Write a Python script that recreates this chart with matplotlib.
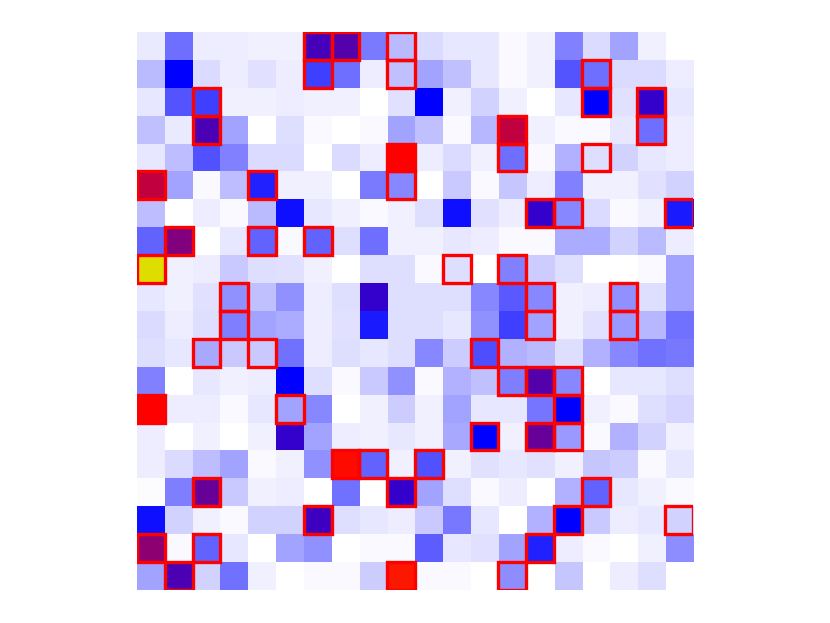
import numpy as np
import matplotlib
matplotlib.use("Agg")
import matplotlib.pyplot as plt
from matplotlib.colors import LinearSegmentedColormap
from matplotlib.patches import Rectangle

nan = np.nan

# cell values: 0 = white, 1 = blue, 2 = red, 3 = yellow
values = [
    [0.09, 0.57, 0.08, 0.08, 0.06, 0.06, 1.27, 1.33, 0.52, 0.28, 0.15, 0.10, 0.10, 0.03, 0.06, 0.50, 0.15, 0.37, 0.07, nan],
    [0.28, 1.00, 0.15, 0.08, 0.12, 0.08, 0.75, 0.57, 0.08, 0.25, 0.37, 0.25, 0.10, 0.03, 0.06, 0.67, 0.57, 0.15, 0.15, 0.08],
    [0.10, 0.67, 0.75, 0.06, 0.06, 0.08, 0.06, 0.06, 0.00, 0.12, 1.00, 0.06, 0.18, 0.06, 0.00, 0.10, 1.00, 0.12, 1.20, 0.10],
    [0.25, 0.09, 1.30, 0.37, 0.00, 0.14, 0.03, 0.00, 0.03, 0.37, 0.25, 0.03, 0.29, 1.75, 0.06, 0.03, 0.03, 0.10, 0.57, 0.08],
    [0.10, 0.26, 0.69, 0.50, 0.15, 0.15, 0.00, 0.15, 0.08, 2.00, 0.08, 0.15, 0.06, 0.57, 0.03, 0.31, 0.14, 0.18, 0.10, 0.08],
    [1.75, 0.37, 0.03, 0.26, 0.87, 0.06, 0.06, 0.00, 0.52, 0.47, 0.00, 0.22, 0.03, 0.23, 0.08, 0.50, 0.06, 0.06, 0.12, 0.18],
    [0.26, 0.00, 0.08, 0.03, 0.28, 0.94, 0.10, 0.06, 0.03, 0.06, 0.14, 0.94, 0.12, 0.08, 1.20, 0.47, 0.15, 0.03, 0.06, 0.90],
    [0.62, 1.50, 0.00, 0.10, 0.62, 0.03, 0.62, 0.14, 0.57, 0.06, 0.06, 0.10, 0.08, 0.03, 0.03, 0.33, 0.33, 0.18, 0.28, 0.08],
    [3.00, 0.06, 0.08, 0.22, 0.14, 0.12, 0.06, 0.00, 0.14, 0.14, 0.03, 0.14, 0.00, 0.50, 0.20, 0.14, 0.00, 0.00, 0.03, 0.37],
    [0.10, 0.06, 0.12, 0.44, 0.25, 0.44, 0.08, 0.14, 1.20, 0.14, 0.14, 0.14, 0.47, 0.65, 0.47, 0.06, 0.08, 0.44, 0.14, 0.37],
    [0.15, 0.08, 0.14, 0.51, 0.37, 0.33, 0.08, 0.12, 0.90, 0.14, 0.14, 0.10, 0.44, 0.75, 0.37, 0.06, 0.12, 0.40, 0.29, 0.56],
    [0.14, 0.10, 0.34, 0.22, 0.22, 0.56, 0.08, 0.14, 0.10, 0.14, 0.47, 0.20, 0.70, 0.31, 0.28, 0.14, 0.31, 0.47, 0.56, 0.53],
    [0.50, 0.00, 0.10, 0.06, 0.08, 1.00, 0.14, 0.03, 0.22, 0.44, 0.03, 0.31, 0.25, 0.51, 1.33, 0.48, 0.00, 0.10, 0.10, 0.14],
    [2.00, 0.08, 0.08, 0.03, 0.10, 0.37, 0.47, 0.00, 0.06, 0.20, 0.06, 0.37, 0.10, 0.10, 0.55, 1.00, 0.06, 0.03, 0.14, 0.17],
    [0.08, 0.00, 0.06, 0.00, 0.06, 1.20, 0.37, 0.08, 0.06, 0.10, 0.06, 0.34, 1.00, 0.06, 1.40, 0.40, 0.03, 0.31, 0.18, 0.06],
    [0.08, 0.15, 0.26, 0.37, 0.03, 0.06, 0.44, 2.05, 0.62, 0.06, 0.69, 0.06, 0.12, 0.10, 0.12, 0.06, 0.23, 0.20, 0.03, 0.10],
    [0.02, 0.51, 1.40, 0.22, 0.06, 0.08, 0.00, 0.56, 0.00, 1.20, 0.37, 0.14, 0.03, 0.08, 0.00, 0.31, 0.62, 0.10, 0.06, 0.03],
    [0.94, 0.18, 0.06, 0.03, 0.18, 0.18, 1.25, 0.14, 0.10, 0.08, 0.22, 0.53, 0.10, 0.00, 0.31, 1.00, 0.22, 0.08, 0.10, 0.18],
    [1.55, 0.03, 0.62, 0.10, 0.00, 0.37, 0.44, 0.00, 0.03, 0.03, 0.64, 0.10, 0.12, 0.37, 0.87, 0.08, 0.03, 0.00, 0.06, 0.45],
    [0.37, 1.30, 0.18, 0.56, 0.06, 0.00, 0.03, 0.03, 0.20, 2.10, 0.03, 0.03, 0.00, 0.45, 0.00, 0.23, 0.00, 0.08, 0.14, nan],
]

# highlighted cells (row, col)
marked_rows = [0, 0, 0, 1, 1, 1, 2, 2, 2, 3, 3, 3, 4, 4, 4, 5, 5, 5, 6, 6, 6,
               7, 7, 7, 8, 8, 8, 9, 9, 9, 10, 10, 10, 11, 11, 11, 12, 12, 12,
               13, 13, 13, 14, 14, 14, 15, 15, 15, 16, 16, 16, 17, 17, 17,
               18, 18, 18, 19, 19, 19]
marked_cols = [6, 7, 9, 6, 9, 16, 2, 16, 18, 2, 13, 18, 9, 13, 16, 0, 4, 9, 14, 15, 19,
               1, 4, 6, 0, 11, 13, 3, 14, 17, 3, 14, 17, 2, 4, 12, 13, 14, 15,
               0, 5, 15, 12, 14, 15, 7, 8, 10, 2, 9, 16, 6, 15, 19,
               0, 2, 14, 1, 9, 13]

data = np.array(values, dtype=float)
cmap = LinearSegmentedColormap.from_list(
    "wbry", [(0, "#ffffff"), (1/3, "#0000ff"), (2/3, "#ff0000"), (1, "#dddd00")])

fig = plt.figure(figsize=(8.3, 6.23), dpi=100)
ax = fig.add_axes([137/830, 33/623, 556/830, 558/623])
ax.imshow(np.ma.masked_invalid(data), cmap=cmap, vmin=0, vmax=3,
          interpolation="nearest", aspect="auto")
for r, c in zip(marked_rows, marked_cols):
    ax.add_patch(Rectangle((c - 0.5, r - 0.5), 1, 1, fill=False,
                           edgecolor="#ff0000", linewidth=2.4))
ax.set_xlim(-0.5, 19.5)
ax.set_ylim(19.5, -0.5)
ax.axis("off")

fig.savefig("out.png", dpi=100)
